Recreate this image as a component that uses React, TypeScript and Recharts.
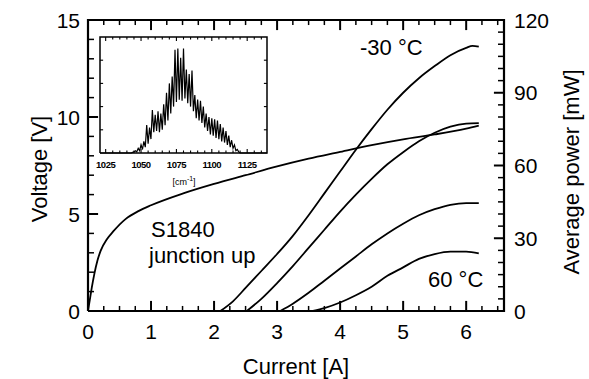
import React from 'react';
import { ComposedChart, LineChart, Line, XAxis, YAxis } from 'recharts';

const FONT = '"Liberation Sans", Arial, sans-serif';
const INK = '#000';

// main axes
const X_DOMAIN = [0, 6.6];
const V_DOMAIN = [0, 15];
const P_DOMAIN = [0, 120];
const X_MAJOR = [0, 1, 2, 3, 4, 5, 6];
const X_MINOR = [0.25, 0.5, 0.75, 1.25, 1.5, 1.75, 2.25, 2.5, 2.75, 3.25, 3.5, 3.75, 4.25, 4.5, 4.75, 5.25, 5.5, 5.75, 6.25, 6.5];
const V_MAJOR = [0, 5, 10, 15];
const V_MINOR = [1, 2, 3, 4, 6, 7, 8, 9, 11, 12, 13, 14];
const P_MAJOR = [0, 30, 60, 90, 120];
const P_MINOR = [5, 10, 15, 20, 25, 35, 40, 45, 50, 55, 65, 70, 75, 80, 85, 95, 100, 105, 110, 115];

// voltage vs current (left axis)
const V_CURRENT = [0, 0.03, 0.06, 0.1, 0.15, 0.2, 0.3, 0.4, 0.6, 0.8, 1.0, 1.5, 2.0, 2.5, 3.0, 3.5, 4.0, 4.5, 5.0, 5.5, 6.0, 6.2];
const VOLTAGE = [0, 0.6, 1.2, 1.9, 2.6, 3.1, 3.7, 4.1, 4.75, 5.15, 5.45, 6.05, 6.55, 7.0, 7.45, 7.85, 8.2, 8.55, 8.85, 9.1, 9.4, 9.55];

// average power at four heat-sink temperatures (right axis)
const P_M30_CURRENT = [2.1, 2.3, 2.5, 2.75, 3.0, 3.25, 3.5, 3.75, 4.0, 4.25, 4.5, 4.75, 5.0, 5.25, 5.5, 5.75, 6.0, 6.1, 6.2];
const P_M30 = [0, 4, 9.5, 16.5, 23.5, 31, 39.5, 48.5, 57.5, 66.5, 75, 83, 90, 96, 101, 105.5, 108.5, 109.3, 109];
const P_0_CURRENT = [2.52, 2.75, 3.0, 3.25, 3.5, 3.75, 4.0, 4.25, 4.5, 4.75, 5.0, 5.25, 5.5, 5.75, 6.0, 6.2];
const P_0 = [0, 5, 11.5, 18.5, 26, 33.5, 41, 48, 54.5, 60.5, 65.5, 70, 73.5, 76, 77.3, 77.5];
const P_30_CURRENT = [3.05, 3.25, 3.5, 3.75, 4.0, 4.25, 4.5, 4.75, 5.0, 5.25, 5.5, 5.75, 6.0, 6.2];
const P_30 = [0, 3, 7.5, 12.5, 17.5, 22.5, 27.5, 32, 36, 39.5, 42, 43.8, 44.5, 44.5];
const P_60_CURRENT = [3.57, 3.75, 4.0, 4.25, 4.5, 4.75, 5.0, 5.25, 5.5, 5.75, 6.0, 6.2];
const P_60 = [0, 1.2, 3.5, 6.5, 10, 14.5, 18, 21.5, 23.5, 24.5, 24.5, 23.8];

// inset spectrum
const WN_DOMAIN = [1021, 1139];
const INT_DOMAIN = [0, 1];
const WN = [
  1021, 1030, 1040, 1043, 1044, 1045, 1046, 1047, 1048, 1049, 1050, 1051, 1052, 1053, 1054, 1055, 1056, 1057, 1058, 1059,
  1060, 1061, 1062, 1063, 1064, 1065, 1066, 1067, 1068, 1069, 1070, 1071, 1072, 1073, 1074, 1075, 1076, 1077, 1078, 1079,
  1080, 1081, 1082, 1083, 1084, 1085, 1086, 1087, 1088, 1089, 1090, 1091, 1092, 1093, 1094, 1095, 1096, 1097, 1098, 1099,
  1100, 1101, 1102, 1103, 1104, 1105, 1106, 1107, 1108, 1109, 1110, 1111, 1112, 1113, 1114, 1115, 1116, 1117, 1118, 1119,
  1120, 1130, 1139,
];
const INTENSITY = [
  0, 0, 0, 0, 0.005, 0.01, 0.02, 0.01, 0.04, 0.02, 0.07, 0.03, 0.1, 0.05, 0.24, 0.08, 0.22, 0.12, 0.37, 0.18,
  0.33, 0.19, 0.36, 0.18, 0.34, 0.2, 0.42, 0.24, 0.52, 0.28, 0.6, 0.34, 0.66, 0.4, 0.89, 0.44, 0.9, 0.46, 0.82, 0.45,
  0.9, 0.47, 0.72, 0.43, 0.68, 0.4, 0.71, 0.36, 0.5, 0.3, 0.46, 0.28, 0.45, 0.26, 0.4, 0.22, 0.34, 0.19, 0.31, 0.16,
  0.3, 0.15, 0.29, 0.13, 0.28, 0.12, 0.25, 0.1, 0.22, 0.09, 0.19, 0.07, 0.15, 0.05, 0.11, 0.04, 0.07, 0.02, 0.03, 0.01,
  0, 0, 0,
];
const WN_MAJOR = [1025, 1050, 1075, 1100, 1125];
const WN_MINOR = [1030, 1035, 1040, 1045, 1055, 1060, 1065, 1070, 1080, 1085, 1090, 1095, 1105, 1110, 1115, 1120, 1130, 1135];
const INT_TICKS = [0.2, 0.4, 0.6, 0.8];

type Pt = { i: number; y: number };
const pts = (xs: number[], ys: number[]): Pt[] => xs.map((x, k) => ({ i: x, y: ys[k] }));
const seg = (x1: number, y1: number, x2: number, y2: number): Pt[] => [{ i: x1, y: y1 }, { i: x2, y: y2 }];
const box = (xd: number[], yd: number[]): Pt[] => [
  { i: xd[0], y: yd[0] }, { i: xd[1], y: yd[0] }, { i: xd[1], y: yd[1] }, { i: xd[0], y: yd[1] }, { i: xd[0], y: yd[0] },
];

const voltageData = pts(V_CURRENT, VOLTAGE);
const powerSeries = [
  pts(P_M30_CURRENT, P_M30),
  pts(P_0_CURRENT, P_0),
  pts(P_30_CURRENT, P_30),
  pts(P_60_CURRENT, P_60),
];
const spectrum = WN.map((w, k) => ({ i: w, y: INTENSITY[k] }));

// inward tick lengths, in data units of the crossing axis (about 10px major, 5-6px minor)
const X_ALL = [...X_MAJOR, ...X_MINOR];
const V_ALL = [...V_MAJOR, ...V_MINOR];
const P_ALL = [...P_MAJOR, ...P_MINOR];
const WN_ALL = [...WN_MAJOR, ...WN_MINOR];

const xTicks = X_ALL.flatMap((v) => {
  const major = X_MAJOR.includes(v);
  const len = major ? 0.52 : 0.26;
  return [
    { d: seg(v, V_DOMAIN[0], v, V_DOMAIN[0] + len), w: major ? 2 : 1.5 },
    { d: seg(v, V_DOMAIN[1], v, V_DOMAIN[1] - len), w: major ? 2 : 1.5 },
  ];
});
const vTicks = V_ALL.map((v) => {
  const major = V_MAJOR.includes(v);
  return { d: seg(X_DOMAIN[0], v, X_DOMAIN[0] + (major ? 0.16 : 0.095), v), w: major ? 2 : 1.5 };
});
const pTicks = P_ALL.map((v) => {
  const major = P_MAJOR.includes(v);
  return { d: seg(X_DOMAIN[1], v, X_DOMAIN[1] - (major ? 0.16 : 0.095), v), w: major ? 2 : 1.5 };
});
const wnTicks = WN_ALL.flatMap((v) => {
  const len = WN_MAJOR.includes(v) ? 0.035 : 0.022;
  return [seg(v, INT_DOMAIN[0], v, INT_DOMAIN[0] + len), seg(v, INT_DOMAIN[1], v, INT_DOMAIN[1] - len)];
});
const intTicks = INT_TICKS.flatMap((v) => [
  seg(WN_DOMAIN[0], v, WN_DOMAIN[0] + 2.2, v),
  seg(WN_DOMAIN[1], v, WN_DOMAIN[1] - 2.2, v),
]);

type Side = 'bottom' | 'left' | 'right';
function makeLabel(side: Side, gap: number, font: any) {
  return (props: any) => {
    const { x, y, payload } = props;
    if (side === 'bottom') return <text x={x} y={y + gap} dy="0.71em" textAnchor="middle" {...font}>{payload.value}</text>;
    if (side === 'left') return <text x={x - gap} y={y} dy="0.36em" textAnchor="end" {...font}>{payload.value}</text>;
    return <text x={x + gap} y={y} dy="0.36em" textAnchor="start" {...font}>{payload.value}</text>;
  };
}

const tickFont = { fill: INK, fontSize: 21, fontFamily: FONT };
const insetFont = { fill: INK, fontSize: 9.5, fontFamily: FONT, fontWeight: 'bold', letterSpacing: -0.5 };
const labelBottom = makeLabel('bottom', 13, tickFont);
const labelLeft = makeLabel('left', 8, tickFont);
const labelRight = makeLabel('right', 10, tickFont);
const labelInset = makeLabel('bottom', 8, insetFont);

const plain = { dot: false, isAnimationActive: false, type: 'linear' as const, stroke: INK, dataKey: 'y' };

function Inset() {
  return (
    <div style={{ position: 'absolute', left: 90, top: 30, width: 190, height: 160 }}>
      <LineChart width={190} height={160} data={spectrum} margin={{ top: 7, right: 13, bottom: 0, left: 10 }}>
        <XAxis xAxisId="b" dataKey="i" type="number" domain={WN_DOMAIN} ticks={WN_MAJOR} interval={0}
          height={37} axisLine={false} tickLine={false} tickSize={0} tickMargin={0} tick={labelInset} />
        <YAxis yAxisId="l" type="number" domain={INT_DOMAIN} hide />
        <Line xAxisId="b" yAxisId="l" {...plain} strokeWidth={1.2} />
        {wnTicks.map((d, k) => (
          <Line key={'w' + k} xAxisId="b" yAxisId="l" data={d} {...plain} strokeWidth={1.1} />
        ))}
        {intTicks.map((d, k) => (
          <Line key={'n' + k} xAxisId="b" yAxisId="l" data={d} {...plain} strokeWidth={1.1} />
        ))}
        <Line xAxisId="b" yAxisId="l" data={box(WN_DOMAIN, INT_DOMAIN)} {...plain} strokeWidth={1.5} />
      </LineChart>
    </div>
  );
}

export default function App() {
  return (
    <div style={{ position: 'absolute', left: 0, top: 0, width: 589, height: 379 }}>
      <ComposedChart width={589} height={379} margin={{ top: 20, right: 0, bottom: 0, left: 0 }}>
        <XAxis xAxisId="x" dataKey="i" type="number" domain={X_DOMAIN} ticks={X_MAJOR} interval={0} height={68}
          axisLine={{ stroke: INK, strokeWidth: 2 }} tickLine={false} tickSize={0} tickMargin={0} tick={labelBottom} />
        <YAxis yAxisId="v" type="number" domain={V_DOMAIN} ticks={V_MAJOR} interval={0} width={88}
          axisLine={{ stroke: INK, strokeWidth: 2 }} tickLine={false} tickSize={0} tickMargin={0} tick={labelLeft} />
        <YAxis yAxisId="p" orientation="right" type="number" domain={P_DOMAIN} ticks={P_MAJOR} interval={0} width={85}
          axisLine={{ stroke: INK, strokeWidth: 2 }} tickLine={false} tickSize={0} tickMargin={0} tick={labelRight} />
        <Line xAxisId="x" yAxisId="v" data={voltageData} dataKey="y" type="monotone" stroke={INK} strokeWidth={1.8}
          dot={false} isAnimationActive={false} />
        {powerSeries.map((d, k) => (
          <Line key={'s' + k} xAxisId="x" yAxisId="p" data={d} dataKey="y" type="monotone" stroke={INK} strokeWidth={1.8}
            dot={false} isAnimationActive={false} />
        ))}
        {xTicks.map((t, k) => (
          <Line key={'x' + k} xAxisId="x" yAxisId="v" data={t.d} {...plain} strokeWidth={t.w} />
        ))}
        {vTicks.map((t, k) => (
          <Line key={'v' + k} xAxisId="x" yAxisId="v" data={t.d} {...plain} strokeWidth={t.w} />
        ))}
        {pTicks.map((t, k) => (
          <Line key={'p' + k} xAxisId="x" yAxisId="p" data={t.d} {...plain} strokeWidth={t.w} />
        ))}
        <Line xAxisId="x" yAxisId="v" data={box(X_DOMAIN, V_DOMAIN)} {...plain} strokeWidth={2.2} />
      </ComposedChart>
      <Inset />
      <svg width={589} height={379} style={{ position: 'absolute', left: 0, top: 0, pointerEvents: 'none' }}
        fontFamily={FONT} fill={INK}>
        <text x={296} y={374} fontSize={22} textAnchor="middle">Current [A]</text>
        <text transform="translate(47,169) rotate(-90)" fontSize={22} textAnchor="middle">Voltage [V]</text>
        <text transform="translate(579,172) rotate(-90)" fontSize={22} textAnchor="middle">Average power [mW]</text>
        <text x={360} y={55} fontSize={22}>-30 °C</text>
        <text x={428} y={287} fontSize={22}>60 °C</text>
        <text x={151} y={237} fontSize={22}>S1840</text>
        <text x={149} y={263} fontSize={22}>junction up</text>
        <text x={184} y={185} fontSize={9} textAnchor="middle">
          [cm<tspan dy={-4} fontSize={7}>-1</tspan><tspan dy={4}>]</tspan>
        </text>
      </svg>
    </div>
  );
}
